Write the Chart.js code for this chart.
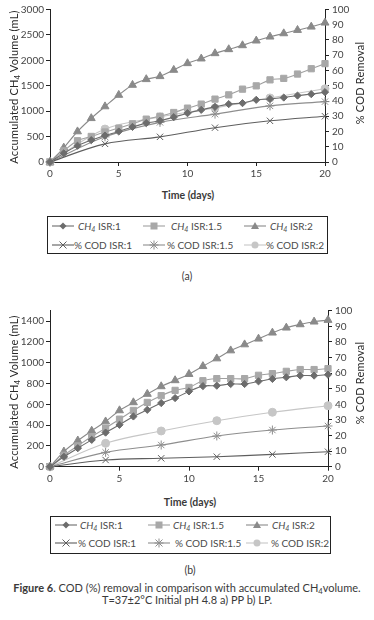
<!DOCTYPE html>
<html><head><meta charset="utf-8">
<script src="https://cdn.jsdelivr.net/npm/chart.js@4/dist/chart.umd.min.js"></script>
<style>
body{margin:0;width:374px;height:620px;background:#fff;position:relative;overflow:hidden;font-family:Lato,"Open Sans",sans-serif;color:#3a3a3a}
canvas{position:absolute;left:0}
.t{position:absolute;white-space:nowrap}
.ytitle{position:absolute;white-space:nowrap;transform:translate(-50%,-50%) rotate(-90deg);font-size:11px;font-weight:400;color:#2a2a2a;letter-spacing:0.2px}
.xtitle{position:absolute;white-space:nowrap;transform:translate(-50%,-50%);font-size:10.5px;font-weight:700;color:#3a3a3a}
.legbox{position:absolute;border:1px solid #222;box-sizing:border-box}
.lt{position:absolute;white-space:nowrap;font-size:10px;color:#4a4a4a;transform:translateY(-50%);line-height:12px}
.lsvg{position:absolute;line-height:0}
.lsvg svg{display:block}
.cap{position:absolute;left:0;width:374px;text-align:center;font-size:11px;color:#3a3a3a;white-space:nowrap;transform:translateY(-50%)}
sub{font-size:70%;vertical-align:-2px;line-height:0}
</style>
</head><body>
<canvas id="ca" width="374" height="185" style="top:0"></canvas>
<canvas id="cb" width="374" height="192" style="top:300px"></canvas>

<div class="ytitle" style="left:13px;top:87px">Accumulated CH<sub>4</sub> Volume (mL)</div>
<div class="ytitle" style="left:359px;top:83px">% COD Removal</div>
<div class="xtitle" style="left:188px;top:195px">Time (days)</div>
<div class="legbox" style="left:47px;top:216px;width:281px;height:38px"></div>
<div id="lega"></div>
<div class="t" style="left:187px;top:276px;transform:translate(-50%,-50%);font-size:10.5px">(a)</div>

<div class="ytitle" style="left:13px;top:392px">Accumulated CH<sub>4</sub> Volume (mL)</div>
<div class="ytitle" style="left:359px;top:383px">% COD Removal</div>
<div class="xtitle" style="left:190px;top:502px">Time (days)</div>
<div class="legbox" style="left:50px;top:516px;width:281px;height:38px"></div>
<div id="legb"></div>
<div class="t" style="left:190px;top:570px;transform:translate(-50%,-50%);font-size:10.5px">(b)</div>

<div class="cap" style="top:587px"><b>Figure 6</b>. COD (%) removal in comparison with accumulated CH<sub>4</sub>volume.</div>
<div class="cap" style="top:599px">T=37±2°C Initial pH 4.8 a) PP b) LP.</div>

<script>
// ---- data ----
const daysDaily = [0,1,2,3,4,5,6,7,8,9,10,11,12,13,14,15,16,17,18,19,20];
const daysCOD = [0,4,8,12,16,20];
const seriesLabels = ['CH4 ISR:1','CH4 ISR:1.5','CH4 ISR:2','% COD ISR:1','% COD ISR:1.5','% COD ISR:2'];

// panel (a) PP
const aCH4isr1  = [0,170,320,430,520,600,690,765,810,882,960,1026,1085,1139,1158,1223,1240,1268,1307,1335,1374];
const aCH4isr15 = [0,220,418,503,590,667,752,843,900,974,1060,1139,1237,1321,1433,1498,1616,1645,1730,1835,1935];
const aCH4isr2  = [0,280,600,860,1092,1318,1515,1627,1686,1810,1941,2033,2137,2216,2294,2386,2464,2529,2595,2660,2739];
const aCODisr1  = [0,11.9,16.5,22.5,27,30];
const aCODisr15 = [0,16.5,26,31.4,36.8,39.6];
const aCODisr2  = [0,21.6,29.5,35.5,42,48];

// panel (b) LP
const bCH4isr1  = [0,95,178,258,328,403,483,547,612,660,724,775,779,795,795,821,844,860,876,876,885];
const bCH4isr15 = [0,110,200,290,371,457,541,618,683,734,762,827,847,847,847,879,895,917,934,934,943];
const bCH4isr2  = [0,145,251,345,434,541,618,699,772,830,890,966,1040,1117,1175,1230,1288,1336,1368,1394,1410];
const bCODisr1  = [0,4.3,5.4,6.4,7.9,9.6];
const bCODisr15 = [0,9.2,13.9,19.7,23.5,26.1];
const bCODisr2  = [0,15,22.9,29.5,34.9,39.1];

// ticks
const xTicks = [0,5,10,15,20];
const aLeftTicks = [0,500,1000,1500,2000,2500,3000];
const bLeftTicks = [0,200,400,600,800,1000,1200,1400];
const rightTicks = [0,10,20,30,40,50,60,70,80,90,100];

// ---- styles ----
const styles = [
  {pointStyle:'rectRot', r:3.6, color:'#6c6c6c', line:'#6c6c6c', axis:'y'},
  {pointStyle:'rect', r:4.4, color:'#a8a8a8', line:'#a0a0a0', axis:'y'},
  {pointStyle:'triangle', r:4.6, color:'#8a8a8a', line:'#8a8a8a', axis:'y'},
  {pointStyle:'crossRot', r:4.5, color:'#5e5e5e', line:'#5e5e5e', axis:'y1'},
  {pointStyle:'star', r:4.5, color:'#8e8e8e', line:'#8e8e8e', axis:'y1'},
  {pointStyle:'circle', r:4, color:'#c6c6c6', line:'#c6c6c6', axis:'y1'}
];

function pts(xs, ys){ return xs.map((x,i)=>({x:x, y:ys[i]})); }

function makeChart(id, series, leftTicks, leftMax, leftW, rightW, padTop, xH){
  const xsets = [daysDaily,daysDaily,daysDaily,daysCOD,daysCOD,daysCOD];
  const datasets = series.map((s,i)=>({
    label: seriesLabels[i],
    data: pts(xsets[i], s),
    yAxisID: styles[i].axis,
    borderColor: styles[i].line,
    backgroundColor: styles[i].color,
    pointBackgroundColor: styles[i].color,
    pointBorderColor: styles[i].color,
    pointStyle: styles[i].pointStyle,
    pointRadius: styles[i].r,
    pointBorderWidth: 1,
    borderWidth: 1.1,
    tension: 0.35,
    clip: false
  }));
  const tickFont = {family:'Lato, "Open Sans", sans-serif', size:10};
  const axisCommon = {
    grid:{display:true, drawOnChartArea:false, drawTicks:true, tickLength:4, color:'#222', lineWidth:1},
    border:{display:true, color:'#222', width:1}
  };
  const plain = v => String(v);
  return new Chart(document.getElementById(id), {
    type:'line',
    data:{datasets},
    options:{
      responsive:false, animation:false, devicePixelRatio:1,
      layout:{padding:{top:padTop, left:0, right:0, bottom:0}},
      plugins:{legend:{display:false}, tooltip:{enabled:false}},
      scales:{
        x:{type:'linear', min:0, max:20, ...axisCommon,
           afterBuildTicks:s=>{s.ticks = xTicks.map(v=>({value:v}));},
           afterFit:s=>{s.height = xH;},
           ticks:{font:tickFont, color:'#444', padding:2, maxRotation:0, callback:plain}},
        y:{type:'linear', position:'left', min:0, max:leftMax, ...axisCommon,
           afterBuildTicks:s=>{s.ticks = leftTicks.map(v=>({value:v}));},
           afterFit:s=>{s.width = leftW;},
           ticks:{font:tickFont, color:'#444', padding:2, callback:plain}},
        y1:{type:'linear', position:'right', min:0, max:100, ...axisCommon,
           afterBuildTicks:s=>{s.ticks = rightTicks.map(v=>({value:v}));},
           afterFit:s=>{s.width = rightW;},
           ticks:{font:tickFont, color:'#444', padding:3, callback:plain}}
      }
    }
  });
}

makeChart('ca', [aCH4isr1,aCH4isr15,aCH4isr2,aCODisr1,aCODisr15,aCODisr2], aLeftTicks, 3000, 50, 49, 9.5, 23);
makeChart('cb', [bCH4isr1,bCH4isr15,bCH4isr2,bCODisr1,bCODisr15,bCODisr2], bLeftTicks, 1500, 50, 46, 10.7, 25.3);

// ---- legends ----
function markerSVG(i){
  const s = styles[i], c = s.color, cx = 11, cy = 5;
  let m = '';
  switch(s.pointStyle){
    case 'rectRot': m = `<polygon points="${cx},${cy-3.5} ${cx+3.5},${cy} ${cx},${cy+3.5} ${cx-3.5},${cy}" fill="${c}"/>`; break;
    case 'rect': m = `<rect x="${cx-3.5}" y="${cy-3.5}" width="7" height="7" fill="${c}"/>`; break;
    case 'triangle': m = `<polygon points="${cx},${cy-4} ${cx+4},${cy+3} ${cx-4},${cy+3}" fill="${c}"/>`; break;
    case 'crossRot': m = `<path d="M${cx-3.5} ${cy-3.5}L${cx+3.5} ${cy+3.5}M${cx+3.5} ${cy-3.5}L${cx-3.5} ${cy+3.5}" stroke="${c}" stroke-width="1"/>`; break;
    case 'star': m = `<path d="M${cx-3.5} ${cy-3.5}L${cx+3.5} ${cy+3.5}M${cx+3.5} ${cy-3.5}L${cx-3.5} ${cy+3.5}M${cx} ${cy-4.5}L${cx} ${cy+4.5}M${cx-4.5} ${cy}L${cx+4.5} ${cy}" stroke="${c}" stroke-width="1"/>`; break;
    case 'circle': m = `<circle cx="${cx}" cy="${cy}" r="3.5" fill="${c}"/>`; break;
  }
  return `<svg width="22" height="10" viewBox="0 0 22 10"><line x1="0" y1="5" x2="22" y2="5" stroke="${s.line}" stroke-width="1.1"/>${m}</svg>`;
}
function labelHTML(lbl){
  return lbl.replace('CH4', '<i>CH<sub>4</sub></i>');
}
function buildLegend(id, layout){
  const el = document.getElementById(id);
  let html = '';
  layout.forEach((p,i)=>{
    html += `<div class="lsvg" style="left:${p[0]}px;top:${p[2]-5}px">${markerSVG(i)}</div>`;
    html += `<div class="lt" style="left:${p[1]}px;top:${p[2]}px">${labelHTML(seriesLabels[i])}</div>`;
  });
  el.innerHTML = html;
}
buildLegend('lega', [[52,78,226],[143,171,226],[244,270,226],[52,74,245],[143,167,245],[244,266,245]]);
buildLegend('legb', [[55,80,525],[148,173,525],[246,272,525],[55,78,543],[148,175,543],[246,271,543]]);
</script>
</body></html>
